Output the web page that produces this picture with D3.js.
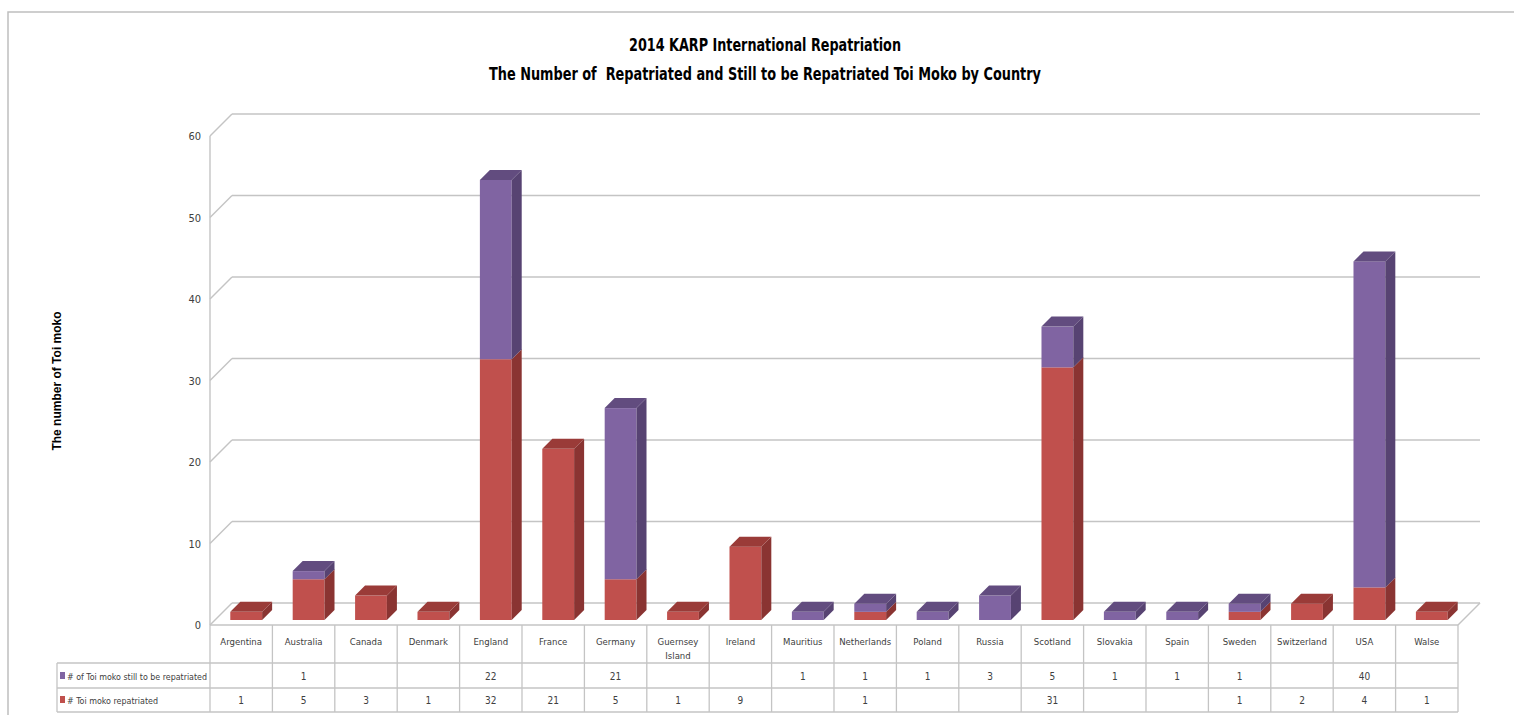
<!DOCTYPE html>
<html>
<head>
<meta charset="utf-8">
<title>2014 KARP International Repatriation</title>
<script src="https://cdn.jsdelivr.net/npm/d3@7"></script>
<style>
  body { margin: 0; background: #fff; }
  svg text { font-family: "Liberation Sans Narrow", "DejaVu Sans Condensed", "Open Sans", sans-serif; fill: #404040; white-space: pre; }
</style>
</head>
<body>
<svg id="chart" width="1514" height="715"></svg>
<script>
// data
var categories = ["Argentina", "Australia", "Canada", "Denmark", "England", "France", "Germany",
  "Guernsey Island", "Ireland", "Mauritius", "Netherlands", "Poland", "Russia", "Scotland",
  "Slovakia", "Spain", "Sweden", "Switzerland", "USA", "Walse"];
var repatriated = [1, 5, 3, 1, 32, 21, 5, 1, 9, null, 1, null, null, 31, null, null, 1, 2, 4, 1];
var stillToGo   = [null, 1, null, null, 22, null, 21, null, null, 1, 1, 1, 3, 5, 1, 1, 1, null, 40, null];
var seriesNames = ["# of Toi moko still to be repatriated", "# Toi moko repatriated"];
var yTicks = [0, 10, 20, 30, 40, 50, 60];

var svg = d3.select("#chart");

// chart frame
svg.append("path").attr("d", "M8,715 V12 H1514")
  .attr("fill", "none").attr("stroke", "#bfbfbf").attr("stroke-width", 1.5);

// titles (squeezed, the original font is a narrow one)
svg.append("text").attr("x", 765).attr("y", 51).attr("text-anchor", "middle")
  .attr("textLength", 272).attr("lengthAdjust", "spacingAndGlyphs")
  .style("font-size", "18px").style("font-weight", "bold").style("fill", "#000")
  .text("2014 KARP International Repatriation");
svg.append("text").attr("x", 765).attr("y", 80).attr("text-anchor", "middle")
  .attr("textLength", 552).attr("lengthAdjust", "spacingAndGlyphs")
  .style("font-size", "18px").style("font-weight", "bold").style("fill", "#000")
  .text("The Number of  Repatriated and Still to be Repatriated Toi Moko by Country");

svg.append("text").attr("transform", "translate(61,381) rotate(-90)").attr("text-anchor", "middle")
  .style("font-family", "'Liberation Sans', Arial, sans-serif")
  .style("font-size", "12px").style("font-weight", "bold").style("fill", "#000")
  .text("The number of Toi moko");

// scales, 3d depth is a plain x/y shift
var x = d3.scaleBand().domain(categories).range([210, 1458]);
var y = d3.scaleLinear().domain([0, 60]).range([625, 136]);
var depth = 22, barZ = 5, barD = 10;
var barW = x.bandwidth() * 0.51;

var grid = "#c4c4c4";
var walls = svg.append("g").attr("stroke", grid).attr("stroke-width", 1.4).attr("fill", "none");

// back wall lines + side diagonals
yTicks.forEach(function (t) {
  var yy = y(t);
  walls.append("line").attr("x1", 210 + depth).attr("x2", 1458 + depth)
    .attr("y1", yy - depth).attr("y2", yy - depth);
  walls.append("line").attr("x1", 210).attr("y1", yy).attr("x2", 210 + depth).attr("y2", yy - depth);
});
walls.append("line").attr("x1", 210).attr("x2", 210).attr("y1", y(60)).attr("y2", y(0));
walls.append("line").attr("x1", 1458).attr("y1", y(0)).attr("x2", 1458 + depth).attr("y2", y(0) - depth);

// y tick labels
svg.append("g").selectAll("text").data(yTicks).enter().append("text")
  .attr("x", 201).attr("y", function (d) { return y(d) + 4; })
  .attr("text-anchor", "end").style("font-size", "11px")
  .text(function (d) { return d; });

// bars
var colors = {
  red: { front: "#C0504D", side: "#8A3432", top: "#9A3B38" },
  purple: { front: "#8064A2", side: "#574372", top: "#624C7F" }
};
var segs = [];
categories.forEach(function (c, i) {
  var r = repatriated[i] || 0, s = stillToGo[i] || 0;
  if (r) segs.push({ cat: c, v0: 0, v1: r, col: colors.red, top: !s });
  if (s) segs.push({ cat: c, v0: r, v1: r + s, col: colors.purple, top: true });
});

var bars = svg.append("g");
segs.forEach(function (d) {
  var xl = x(d.cat) + (x.bandwidth() - barW) / 2 + barZ;
  var xr = xl + barW;
  var yb = y(d.v0) - barZ, yt = y(d.v1) - barZ;
  bars.append("rect").attr("x", xl).attr("y", yt).attr("width", barW).attr("height", yb - yt)
    .attr("fill", d.col.front);
  bars.append("path").attr("fill", d.col.side)
    .attr("d", "M" + xr + "," + yb + "L" + xr + "," + yt + "L" + (xr + barD) + "," + (yt - barD) +
      "L" + (xr + barD) + "," + (yb - barD) + "Z");
  if (d.top) {
    bars.append("path").attr("fill", d.col.top)
      .attr("d", "M" + xl + "," + yt + "L" + (xl + barD) + "," + (yt - barD) + "L" + (xr + barD) + "," +
        (yt - barD) + "L" + xr + "," + yt + "Z");
  }
});

// data table under the chart
var rowTop = 625, r1 = 663, r2 = 688, r3 = 712, legendLeft = 57;
var tbl = svg.append("g").attr("stroke", grid).attr("stroke-width", 1.3);
tbl.append("line").attr("x1", 210).attr("x2", 1458).attr("y1", rowTop).attr("y2", rowTop);
[r1, r2, r3].forEach(function (yy) {
  tbl.append("line").attr("x1", legendLeft).attr("x2", 1458).attr("y1", yy).attr("y2", yy);
});
tbl.append("line").attr("x1", legendLeft).attr("x2", legendLeft).attr("y1", r1).attr("y2", r3);
categories.concat(["end"]).forEach(function (c, i) {
  var xx = i < categories.length ? x(c) : 1458;
  tbl.append("line").attr("x1", xx).attr("x2", xx).attr("y1", rowTop).attr("y2", r3);
});

var cx = function (c) { return x(c) + x.bandwidth() / 2; };
var head = svg.append("g").style("font-size", "9.5px").attr("text-anchor", "middle");
categories.forEach(function (c) {
  var words = c === "Guernsey Island" ? ["Guernsey", "Island"] : [c];
  words.forEach(function (w, k) {
    head.append("text").attr("x", cx(c)).attr("y", 645 + k * 14).text(w);
  });
});

[stillToGo, repatriated].forEach(function (vals, k) {
  var yy = k === 0 ? 680 : 704;
  svg.append("g").style("font-size", "10px").attr("text-anchor", "middle")
    .selectAll("text").data(vals).enter().append("text")
    .attr("x", function (d, i) { return cx(categories[i]); }).attr("y", yy)
    .text(function (d) { return d == null ? "" : d; });
  svg.append("rect").attr("x", 60).attr("y", yy - 8).attr("width", 5).attr("height", 7)
    .attr("fill", k === 0 ? colors.purple.front : colors.red.front);
  svg.append("text").attr("x", 67).attr("y", yy).style("font-size", "9.5px")
    .attr("textLength", k === 0 ? 140 : 91).attr("lengthAdjust", "spacingAndGlyphs")
    .text(seriesNames[k]);
});
</script>
</body>
</html>
